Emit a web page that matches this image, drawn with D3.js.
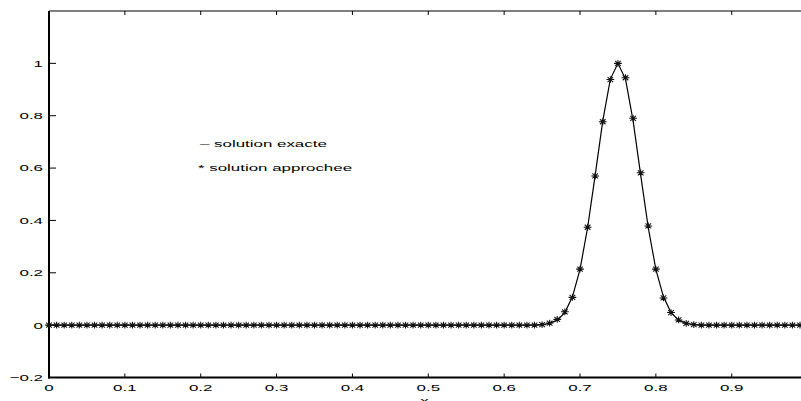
<!DOCTYPE html>
<html>
<head>
<meta charset="utf-8">
<script src="https://cdn.jsdelivr.net/npm/d3@7"></script>
<style>
  html, body { margin: 0; padding: 0; background: #fff; }
  svg { display: block; }
  text { font-family: "Liberation Sans", Arial, Helvetica, sans-serif; fill: #000; }
</style>
</head>
<body>
<svg id="chart" width="801" height="401"></svg>
<script>
// Mesh: 100 nodes, x = 0, 0.01, ..., 0.99
const xMesh = d3.range(100).map(i => i / 100);

// Exact solution sampled on the mesh
const exactValues = [
  0, 0, 0, 0, 0, 0, 0, 0, 0, 0,
  0, 0, 0, 0, 0, 0, 0, 0, 0, 0,
  0, 0, 0, 0, 0, 0, 0, 0, 0, 0,
  0, 0, 0, 0, 0, 0, 0, 0, 0, 0,
  0, 0, 0, 0, 0, 0, 0, 0, 0, 0,
  0, 0, 0, 0, 0, 0, 0, 0, 0, 0,
  0, 0, 0, 0, 0, 0.002, 0.007, 0.019, 0.048, 0.108,
  0.213, 0.372, 0.573, 0.780, 0.940, 1.000, 0.940, 0.780, 0.573, 0.372,
  0.213, 0.108, 0.048, 0.019, 0.007, 0.002, 0, 0, 0, 0,
  0, 0, 0, 0, 0, 0, 0, 0, 0, 0
];

// Approximate (numerical) solution on the same mesh
const approxValues = [
  0, 0, 0, 0, 0, 0, 0, 0, 0, 0,
  0, 0, 0, 0, 0, 0, 0, 0, 0, 0,
  0, 0, 0, 0, 0, 0, 0, 0, 0, 0,
  0, 0, 0, 0, 0, 0, 0, 0, 0, 0,
  0, 0, 0, 0, 0, 0, 0, 0, 0, 0,
  0, 0, 0, 0, 0, 0, 0, 0, 0, 0,
  0, 0, 0, 0, 0, 0.002, 0.008, 0.022, 0.051, 0.106,
  0.214, 0.374, 0.570, 0.777, 0.938, 1.000, 0.945, 0.790, 0.582, 0.379,
  0.214, 0.104, 0.048, 0.020, 0.007, 0.002, 0, 0, 0, 0,
  0, 0, 0, 0, 0, 0, 0, 0, 0, 0
];

const xTicks = [0, 0.1, 0.2, 0.3, 0.4, 0.5, 0.6, 0.7, 0.8, 0.9];
const xTickLabels = ["0", "0.1", "0.2", "0.3", "0.4", "0.5", "0.6", "0.7", "0.8", "0.9"];
const yTicks = [-0.2, 0, 0.2, 0.4, 0.6, 0.8, 1];
const yTickLabels = ["\u22120.2", "0", "0.2", "0.4", "0.6", "0.8", "1"];
const legendLines = ["\u2013 solution exacte", "* solution approchee"];
const xLabel = "x";

// Layout
const plotLeft = 49, plotRight = 800, plotTop = 11, plotBottom = 377.5;
const fontSize = 9.5, stretch = 1.78;

const svg = d3.select("#chart");
const x = d3.scaleLinear().domain([0, 0.99]).range([plotLeft, plotRight]);
const y = d3.scaleLinear().domain([-0.2, 1.2]).range([plotBottom, plotTop]);

// Horizontally stretched label helper
function label(g, tx, ty, str, anchor) {
  g.append("text")
    .attr("transform", `translate(${tx},${ty}) scale(${stretch},1)`)
    .attr("text-anchor", anchor)
    .attr("font-size", fontSize)
    .text(str);
}

// Frame: top edge
svg.append("line")
  .attr("x1", plotLeft).attr("x2", plotRight + 1)
  .attr("y1", plotTop).attr("y2", plotTop)
  .attr("stroke", "#555").attr("stroke-width", 1.4);

// Top ticks (pointing down)
svg.append("g").selectAll("line").data(xTicks.slice(1)).join("line")
  .attr("x1", d => x(d)).attr("x2", d => x(d))
  .attr("y1", plotTop).attr("y2", plotTop + 4)
  .attr("stroke", "#000").attr("stroke-width", 1);

// Bottom axis
const gx = svg.append("g");
gx.append("line")
  .attr("x1", plotLeft - 1).attr("x2", plotRight + 1)
  .attr("y1", plotBottom).attr("y2", plotBottom)
  .attr("stroke", "#000").attr("stroke-width", 2);
gx.selectAll("line.tick").data(xTicks).join("line").attr("class", "tick")
  .attr("x1", d => x(d)).attr("x2", d => x(d))
  .attr("y1", plotBottom).attr("y2", plotBottom - 4)
  .attr("stroke", "#000").attr("stroke-width", 1);
xTicks.forEach((t, i) => label(gx, x(t), 391, xTickLabels[i], "middle"));
label(gx, (plotLeft + plotRight) / 2, 403.5, xLabel, "middle");

// Left axis
const gy = svg.append("g");
gy.append("line")
  .attr("x1", plotLeft).attr("x2", plotLeft)
  .attr("y1", plotTop).attr("y2", plotBottom + 1)
  .attr("stroke", "#000").attr("stroke-width", 2);
gy.selectAll("line.tick").data(yTicks).join("line").attr("class", "tick")
  .attr("x1", plotLeft).attr("x2", plotLeft + 7)
  .attr("y1", d => y(d)).attr("y2", d => y(d))
  .attr("stroke", "#000").attr("stroke-width", 1);
yTicks.forEach((t, i) => label(gy, 43, y(t) + 3.4, yTickLabels[i], "end"));

// Exact solution: solid line
const pts = xMesh.map((xv, i) => ({ x: xv, exact: exactValues[i], approx: approxValues[i] }));
svg.append("path")
  .datum(pts)
  .attr("fill", "none")
  .attr("stroke", "#000")
  .attr("stroke-width", 1.2)
  .attr("d", d3.line().x(d => x(d.x)).y(d => y(d.exact)));

// Approximate solution: asterisk markers
const hw = 3.9, hh = 3.4, dw = 2.8, dh = 2.5;
const star = `M${-hw},0L${hw},0M0,${-hh}L0,${hh}M${-dw},${-dh}L${dw},${dh}M${-dw},${dh}L${dw},${-dh}`;
svg.append("g").selectAll("path").data(pts).join("path")
  .attr("transform", d => `translate(${x(d.x)},${y(d.approx)})`)
  .attr("d", star)
  .attr("fill", "none")
  .attr("stroke", "#111")
  .attr("stroke-width", 1.05);

// Legend text
const gl = svg.append("g");
label(gl, 200, 147, legendLines[0], "start");
label(gl, 198, 171, legendLines[1], "start");
</script>
</body>
</html>
